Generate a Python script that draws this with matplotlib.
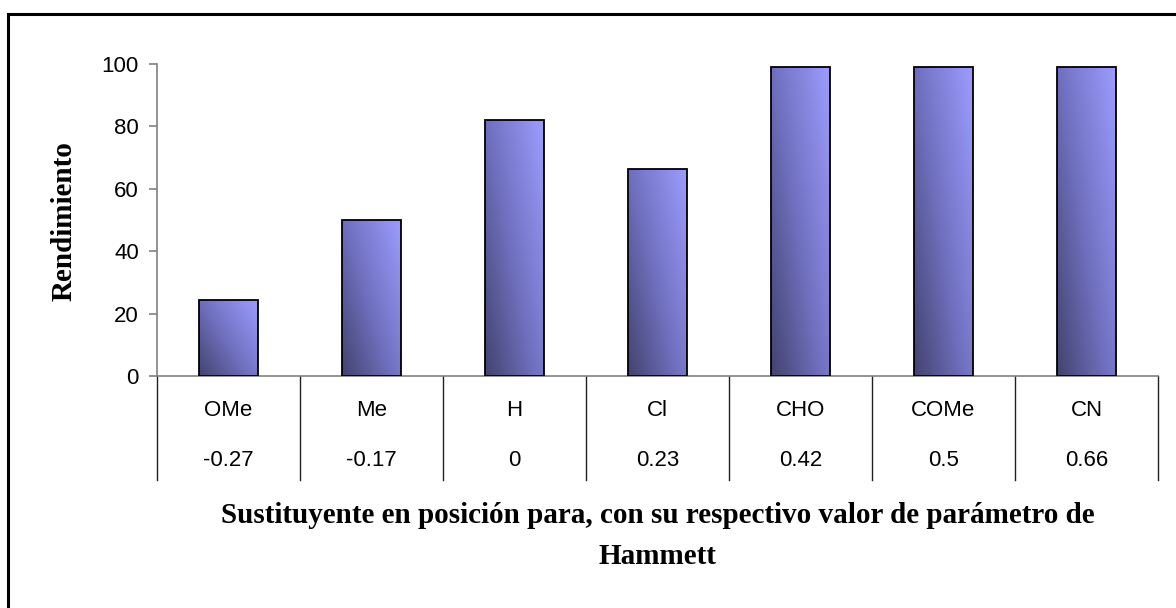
import numpy as np
import matplotlib
matplotlib.use('Agg')
import matplotlib.pyplot as plt
from matplotlib.colors import LinearSegmentedColormap
from matplotlib.patches import Rectangle
import matplotlib.transforms as mtransforms

substituents = ['OMe', 'Me', 'H', 'Cl', 'CHO', 'COMe', 'CN']
hammett = ['-0.27', '-0.17', '0', '0.23', '0.42', '0.5', '0.66']
yields = [24.5, 50, 82, 66.5, 99, 99, 99]

W, H = 1176, 608
fig = plt.figure(figsize=(W / 100, H / 100), dpi=100)
ax = fig.add_axes([157 / W, 1 - 376 / H, 1001 / W, 312 / H])

grad = LinearSegmentedColormap.from_list('bargrad', ['#434370', '#7373c4', '#9c9cff'])
uu, vv = np.meshgrid(np.linspace(0, 1, 60), np.linspace(0, 1, 120))
img = 0.55 * uu + 0.45 * vv

bars = ax.bar(range(len(yields)), yields, width=0.41, facecolor='none',
              edgecolor='black', linewidth=1.3, zorder=3)
for b in bars:
    x0, w, h = b.get_x(), b.get_width(), b.get_height()
    im = ax.imshow(img, cmap=grad, origin='lower', aspect='auto',
                   extent=(x0, x0 + w, 0, h), zorder=2, interpolation='bilinear')
    im.set_clip_path(b)

ax.set_xlim(-0.5, len(yields) - 0.5)
ax.set_ylim(0, 100)
ax.set_yticks(range(0, 101, 20))
ax.set_xticks([])
for s in ['top', 'right']:
    ax.spines[s].set_visible(False)
for s in ['left', 'bottom']:
    ax.spines[s].set_color('#808080')
    ax.spines[s].set_linewidth(1.2)
ax.tick_params(axis='y', direction='out', length=6, width=1.2, color='#808080',
               labelsize=16, pad=7)
for lab in ax.get_yticklabels():
    lab.set_family('Liberation Sans')

# data table under the axis
trans = mtransforms.blended_transform_factory(ax.transData, ax.transAxes)
for i in range(len(yields) + 1):
    ax.plot([i - 0.5, i - 0.5], [0, -0.333], transform=trans, color='#202020',
            lw=1.0, clip_on=False)
for i, (s, hv) in enumerate(zip(substituents, hammett)):
    ax.text(i, -0.112, s, transform=trans, ha='center', va='center',
            fontsize=16, family='Liberation Sans')
    ax.text(i, -0.272, hv, transform=trans, ha='center', va='center',
            fontsize=16, family='Liberation Sans')

fig.text(64 / W, 1 - 221 / H, 'Rendimiento', rotation=90, ha='center', va='center',
         fontsize=21, fontweight='bold', family='Liberation Serif')

xc = 657.5 / W
fig.text(xc, 1 - 523 / H,
         'Sustituyente en posición para, con su respectivo valor de parámetro de',
         ha='center', va='baseline', fontsize=21, fontweight='bold',
         family='Liberation Serif')
fig.text(xc, 1 - 564 / H, 'Hammett', ha='center', va='baseline', fontsize=21,
         fontweight='bold', family='Liberation Serif')

fig.patches.append(Rectangle((8 / W, -0.1), 1.2, 1 - 14 / H + 0.1,
                             transform=fig.transFigure, fill=False,
                             edgecolor='black', linewidth=2.2))

fig.savefig('out.png', dpi=100)
